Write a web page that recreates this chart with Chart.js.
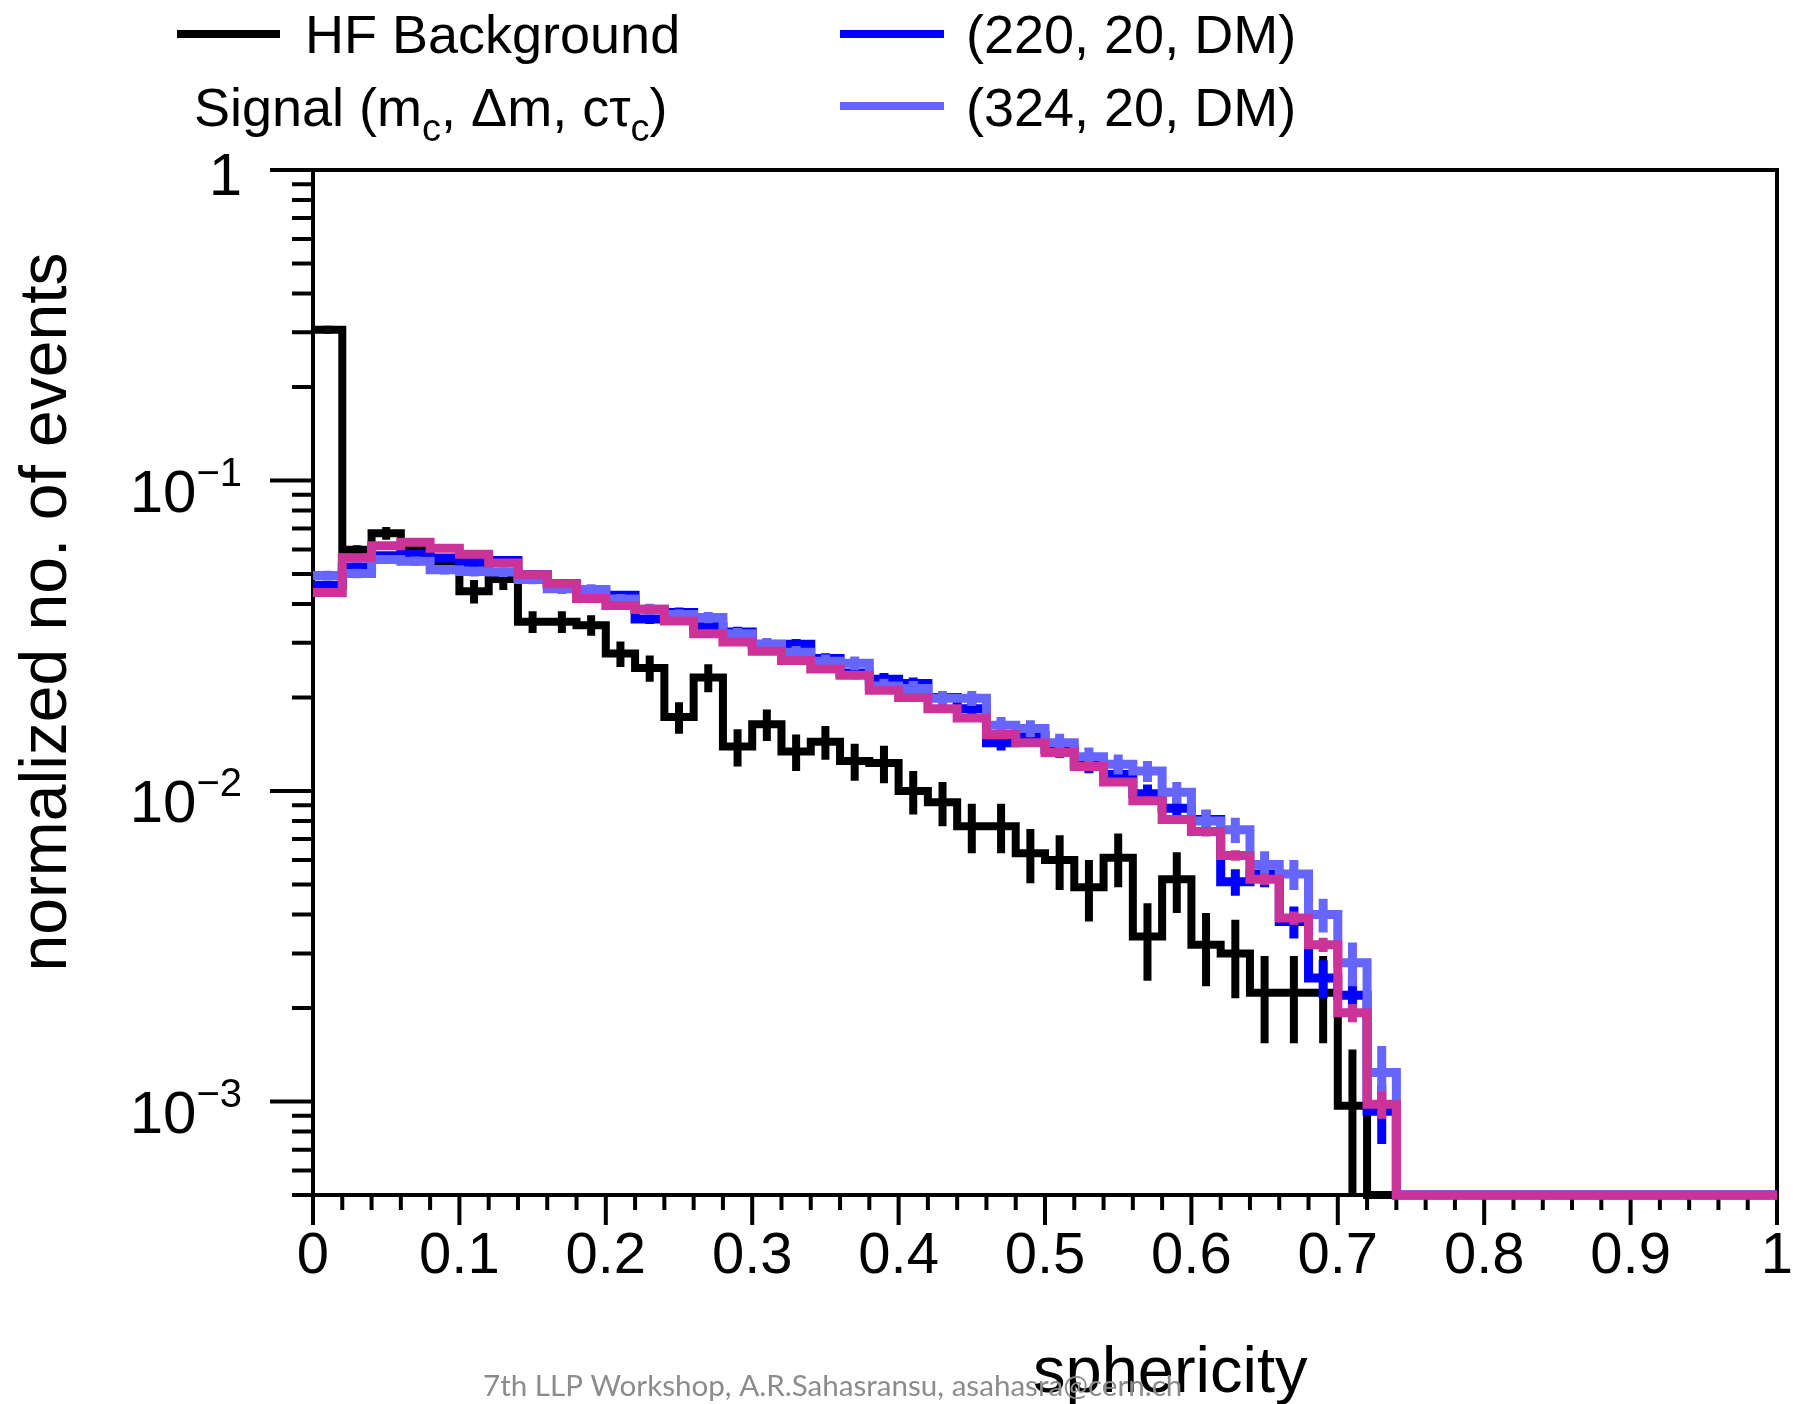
<!DOCTYPE html>
<html>
<head>
<meta charset="utf-8">
<title>sphericity</title>
<script src="https://cdn.jsdelivr.net/npm/chart.js@4.4.1/dist/chart.umd.min.js"></script>
<style>
  html, body { margin: 0; padding: 0; background: #fff; }
  #wrap { width: 1793px; height: 1404px; }
</style>
</head>
<body>
<div id="wrap"><canvas id="c" width="1793" height="1404"></canvas></div>
<script>
// sphericity distributions, HF background vs. signal points (log y)

const BIN_EDGES = [0.00, 0.02, 0.04, 0.06, 0.08, 0.10, 0.12, 0.14, 0.16, 0.18,
  0.20, 0.22, 0.24, 0.26, 0.28, 0.30, 0.32, 0.34, 0.36, 0.38,
  0.40, 0.42, 0.44, 0.46, 0.48, 0.50, 0.52, 0.54, 0.56, 0.58,
  0.60, 0.62, 0.64, 0.66, 0.68, 0.70, 0.72, 0.74, 0.76, 0.78,
  0.80, 0.82, 0.84, 0.86, 0.88, 0.90, 0.92, 0.94, 0.96, 0.98, 1.00];

// HF background (black)
const HF_BKG = [0.306, 0.0598, 0.0676, 0.0605, 0.0548, 0.0440, 0.0482, 0.0351, 0.0351, 0.0342,
  0.0277, 0.0249, 0.0173, 0.0232, 0.0139, 0.0164, 0.0134, 0.0144, 0.0125, 0.0123,
  0.0100, 0.0092, 0.0077, 0.0077, 0.0063, 0.0060, 0.0049, 0.0061, 0.0034, 0.0052,
  0.0032, 0.0030, 0.00224, 0.00224, 0.00224, 0.00097, 0, 0, 0, 0,
  0, 0, 0, 0, 0, 0, 0, 0, 0, 0];
const HF_BKG_ERR = [0.009, 0.0021, 0.0032, 0.0030, 0.0029, 0.0038, 0.0038, 0.0028, 0.0028, 0.0026,
  0.0026, 0.0024, 0.0020, 0.0024, 0.0019, 0.0019, 0.0018, 0.0018, 0.0017, 0.0017,
  0.0016, 0.0015, 0.0014, 0.0014, 0.00125, 0.0012, 0.0011, 0.0012, 0.00095, 0.00115,
  0.00085, 0.00085, 0.0007, 0.0007, 0.0007, 0.0005, 0, 0, 0, 0,
  0, 0, 0, 0, 0, 0, 0, 0, 0, 0];

// signal (220, 20, DM) (blue)
const SIG_220 = [0.0460, 0.0527, 0.0572, 0.0579, 0.0563, 0.0545, 0.0553, 0.0497, 0.0465, 0.0440,
  0.0427, 0.0358, 0.0376, 0.0338, 0.0325, 0.0297, 0.0297, 0.0267, 0.0240, 0.0229,
  0.0222, 0.0200, 0.0184, 0.0143, 0.0151, 0.0136, 0.0122, 0.0113, 0.0098, 0.0088,
  0.0081, 0.0051, 0.0054, 0.0038, 0.0025, 0.0022, 0.00093, 0, 0, 0,
  0, 0, 0, 0, 0, 0, 0, 0, 0, 0];
const SIG_220_ERR = [0.0015, 0.0016, 0.0017, 0.0017, 0.0017, 0.0016, 0.0016, 0.0016, 0.0015, 0.0015,
  0.0014, 0.0013, 0.0014, 0.0013, 0.0013, 0.0012, 0.0012, 0.0011, 0.0011, 0.0011,
  0.0010, 0.0010, 0.0009, 0.0008, 0.0009, 0.0008, 0.0008, 0.0007, 0.0007, 0.0007,
  0.0006, 0.0005, 0.0005, 0.00045, 0.00035, 0.0003, 0.0002, 0, 0, 0,
  0, 0, 0, 0, 0, 0, 0, 0, 0, 0];

// signal (324, 20, DM) (light blue)
const SIG_324 = [0.0494, 0.0502, 0.0557, 0.0550, 0.0516, 0.0509, 0.0507, 0.0480, 0.0448, 0.0446,
  0.0415, 0.0385, 0.0370, 0.0362, 0.0321, 0.0297, 0.0280, 0.0262, 0.0258, 0.0218,
  0.0214, 0.0199, 0.0199, 0.0163, 0.0159, 0.0143, 0.0129, 0.0122, 0.0116, 0.0099,
  0.0080, 0.0075, 0.0058, 0.0054, 0.0040, 0.0028, 0.00124, 0, 0, 0,
  0, 0, 0, 0, 0, 0, 0, 0, 0, 0];
const SIG_324_ERR = [0.0018, 0.0018, 0.0019, 0.0019, 0.0018, 0.0018, 0.0018, 0.0017, 0.0017, 0.0017,
  0.0016, 0.0016, 0.0015, 0.0015, 0.0014, 0.0014, 0.0013, 0.0013, 0.0013, 0.0012,
  0.0012, 0.0011, 0.0011, 0.0010, 0.0010, 0.0010, 0.0009, 0.0009, 0.0009, 0.0008,
  0.0007, 0.0007, 0.0006, 0.0006, 0.0005, 0.00045, 0.00027, 0, 0, 0,
  0, 0, 0, 0, 0, 0, 0, 0, 0, 0];

// third signal point (magenta, not in the legend)
const SIG_OTHER = [0.0436, 0.0564, 0.0616, 0.0633, 0.0605, 0.0579, 0.0542, 0.0497, 0.0465, 0.0417,
  0.0396, 0.0385, 0.0353, 0.0321, 0.0302, 0.0282, 0.0263, 0.0247, 0.0236, 0.0211,
  0.0200, 0.0184, 0.0172, 0.0152, 0.0143, 0.0133, 0.0120, 0.0107, 0.0093, 0.0081,
  0.0074, 0.0062, 0.0052, 0.0039, 0.0032, 0.00193, 0.00098, 0, 0, 0,
  0, 0, 0, 0, 0, 0, 0, 0, 0, 0];
const SIG_OTHER_ERR = [0.0006, 0.0007, 0.0007, 0.0008, 0.0007, 0.0007, 0.0007, 0.0007, 0.0006, 0.0006,
  0.0006, 0.0006, 0.0006, 0.0005, 0.0005, 0.0005, 0.0005, 0.0005, 0.0005, 0.0004,
  0.0004, 0.0004, 0.0004, 0.0004, 0.0004, 0.00035, 0.00033, 0.00031, 0.00029, 0.00027,
  0.00026, 0.00024, 0.00022, 0.00019, 0.00017, 0.00013, 0.0001, 0, 0, 0,
  0, 0, 0, 0, 0, 0, 0, 0, 0, 0];

const X_TICKS = [0, 0.1, 0.2, 0.3, 0.4, 0.5, 0.6, 0.7, 0.8, 0.9, 1];
const X_TICK_LABELS = ["0", "0.1", "0.2", "0.3", "0.4", "0.5", "0.6", "0.7", "0.8", "0.9", "1"];
const X_MINOR_STEP = 0.02;
const Y_TICKS = [1, 0.1, 0.01, 0.001];
const Y_TICK_EXP = ["", "\u22121", "\u22122", "\u22123"];
const Y_MIN = 5e-4, Y_MAX = 1;

const X_TITLE = "sphericity";
const Y_TITLE = "normalized no. of events";
const FOOTER = "7th LLP Workshop, A.R.Sahasransu, asahasra@cern.ch";

const C_BKG = "#000000", C_220 = "#0000ff", C_324 = "#6666ff", C_OTHER = "#cc3399";
const FONT = "'Liberation Sans', Arial, sans-serif";

// ROOT-style: empty bins sit on the bottom of the frame
function histPoints(vals) {
  const pts = vals.map((v, i) => ({ x: BIN_EDGES[i], y: v > 0 ? v : Y_MIN }));
  pts.push({ x: BIN_EDGES[vals.length], y: pts[pts.length - 1].y });
  return pts;
}

function errPoints(vals, errs) {
  const pts = [];
  vals.forEach((v, i) => {
    if (!(v > 0) || !(errs[i] > 0)) return;
    const xc = (BIN_EDGES[i] + BIN_EDGES[i + 1]) / 2;
    pts.push({ x: xc, y: Math.max(v - errs[i], Y_MIN) }, { x: xc, y: v + errs[i] }, { x: xc, y: null });
  });
  return pts;
}

function histSet(vals, color, width, order) {
  return { data: histPoints(vals), borderColor: color, borderWidth: width, stepped: true, clip: 12,
    pointRadius: 0, fill: false, order: order, borderCapStyle: "butt", borderJoinStyle: "miter" };
}
function errSet(vals, errs, color, width, order) {
  return { data: errPoints(vals, errs), borderColor: color, borderWidth: width, spanGaps: false, clip: 12,
    pointRadius: 0, fill: false, order: order, borderCapStyle: "butt" };
}

function richText(ctx, x, y, parts) {
  let cx = x;
  parts.forEach(p => {
    ctx.font = p.size + "px " + FONT;
    ctx.fillText(p.t, cx, y + (p.dy || 0));
    cx += ctx.measureText(p.t).width;
  });
}

const rootFrame = {
  id: "rootFrame",
  beforeDatasetsDraw(chart) {
    const { ctx, chartArea: a, scales: { x, y } } = chart;
    ctx.save();
    ctx.strokeStyle = "#000";
    ctx.lineWidth = 4;
    ctx.strokeRect(a.left, a.top, a.right - a.left, a.bottom - a.top);

    ctx.lineWidth = 4;
    ctx.beginPath();
    for (let k = 0; k <= Math.round(1 / X_MINOR_STEP); k++) {
      const px = x.getPixelForValue(k * X_MINOR_STEP);
      ctx.moveTo(px, a.bottom); ctx.lineTo(px, a.bottom + 15);
    }
    X_TICKS.forEach(t => {
      const px = x.getPixelForValue(t);
      ctx.moveTo(px, a.bottom); ctx.lineTo(px, a.bottom + 30);
    });
    for (let d = -4; d <= 0; d++) {
      for (let m = 2; m <= 9; m++) {
        const v = m * Math.pow(10, d);
        if (v < Y_MIN - 1e-12 || v > Y_MAX) continue;
        const py = y.getPixelForValue(v);
        ctx.moveTo(a.left, py); ctx.lineTo(a.left - 21, py);
      }
    }
    Y_TICKS.forEach(t => {
      const py = y.getPixelForValue(t);
      ctx.moveTo(a.left, py); ctx.lineTo(a.left - 43, py);
    });
    ctx.stroke();
    ctx.restore();
  },
  afterDraw(chart) {
    const { ctx, chartArea: a, scales: { x, y } } = chart;
    ctx.save();
    ctx.fillStyle = "#000";

    // x tick labels
    ctx.font = "58px " + FONT;
    ctx.textAlign = "center";
    ctx.textBaseline = "alphabetic";
    X_TICKS.forEach((t, i) => ctx.fillText(X_TICK_LABELS[i], x.getPixelForValue(t), 1273));

    // y tick labels, right edge at a.left - 71
    const right = a.left - 71;
    Y_TICKS.forEach((t, i) => {
      const py = y.getPixelForValue(t);
      ctx.textAlign = "right";
      if (!Y_TICK_EXP[i]) {
        ctx.font = "60px " + FONT;
        ctx.fillText("1", right, py + 25);
        return;
      }
      ctx.font = "40px " + FONT;
      const ew = ctx.measureText(Y_TICK_EXP[i]).width;
      ctx.fillText(Y_TICK_EXP[i], right, py + 5);
      ctx.font = "60px " + FONT;
      ctx.fillText("10", right - ew, py + 31);
    });

    // axis titles
    ctx.textAlign = "left";
    ctx.font = "65px " + FONT;
    ctx.fillText(X_TITLE, 1033, 1392);
    ctx.save();
    ctx.translate(66, 612);
    ctx.rotate(-Math.PI / 2);
    ctx.textAlign = "center";
    ctx.font = "66px " + FONT;
    ctx.fillText(Y_TITLE, 0, 0);
    ctx.restore();

    // legend
    ctx.lineWidth = 8;
    ctx.lineCap = "butt";
    [[177, 280, 34, C_BKG], [840, 944, 34, C_220], [840, 944, 106, C_324]].forEach(([x0, x1, ly, c]) => {
      ctx.strokeStyle = c;
      ctx.beginPath(); ctx.moveTo(x0, ly); ctx.lineTo(x1, ly); ctx.stroke();
    });
    ctx.fillStyle = "#000";
    ctx.textAlign = "left";
    ctx.font = "54px " + FONT;
    ctx.fillText("HF Background", 305, 53);
    ctx.fillText("(220, 20, DM)", 966, 53);
    ctx.fillText("(324, 20, DM)", 966, 126);
    richText(ctx, 194, 126, [
      { t: "Signal (m", size: 54 }, { t: "c", size: 38, dy: 15 },
      { t: ", \u0394m, c\u03c4", size: 54 }, { t: "c", size: 38, dy: 15 },
      { t: ")", size: 54 }
    ]);

    // slide footer
    ctx.fillStyle = "#8c8c8c";
    let fs = 28;
    ctx.font = fs + "px Lato, 'Open Sans', sans-serif";
    fs = fs * 700 / ctx.measureText(FOOTER).width;
    ctx.font = fs.toFixed(1) + "px Lato, 'Open Sans', sans-serif";
    ctx.textBaseline = "middle";
    ctx.fillText(FOOTER, 483, 1386);
    ctx.restore();
  }
};

new Chart(document.getElementById("c"), {
  type: "line",
  data: {
    datasets: [
      histSet(SIG_OTHER, C_OTHER, 9, 0), errSet(SIG_OTHER, SIG_OTHER_ERR, C_OTHER, 9, 0),
      histSet(SIG_324, C_324, 9, 1), errSet(SIG_324, SIG_324_ERR, C_324, 9, 1),
      histSet(SIG_220, C_220, 9, 2), errSet(SIG_220, SIG_220_ERR, C_220, 9, 2),
      histSet(HF_BKG, C_BKG, 8, 3), errSet(HF_BKG, HF_BKG_ERR, C_BKG, 8, 3)
    ]
  },
  options: {
    responsive: false,
    devicePixelRatio: 1,
    animation: false,
    events: [],
    layout: { padding: { left: 313, right: 16, top: 170, bottom: 209 } },
    plugins: { legend: { display: false }, tooltip: { enabled: false } },
    scales: {
      x: { type: "linear", min: 0, max: 1, display: false },
      y: { type: "logarithmic", min: Y_MIN, max: Y_MAX, display: false }
    }
  },
  plugins: [rootFrame]
});
</script>
</body>
</html>
